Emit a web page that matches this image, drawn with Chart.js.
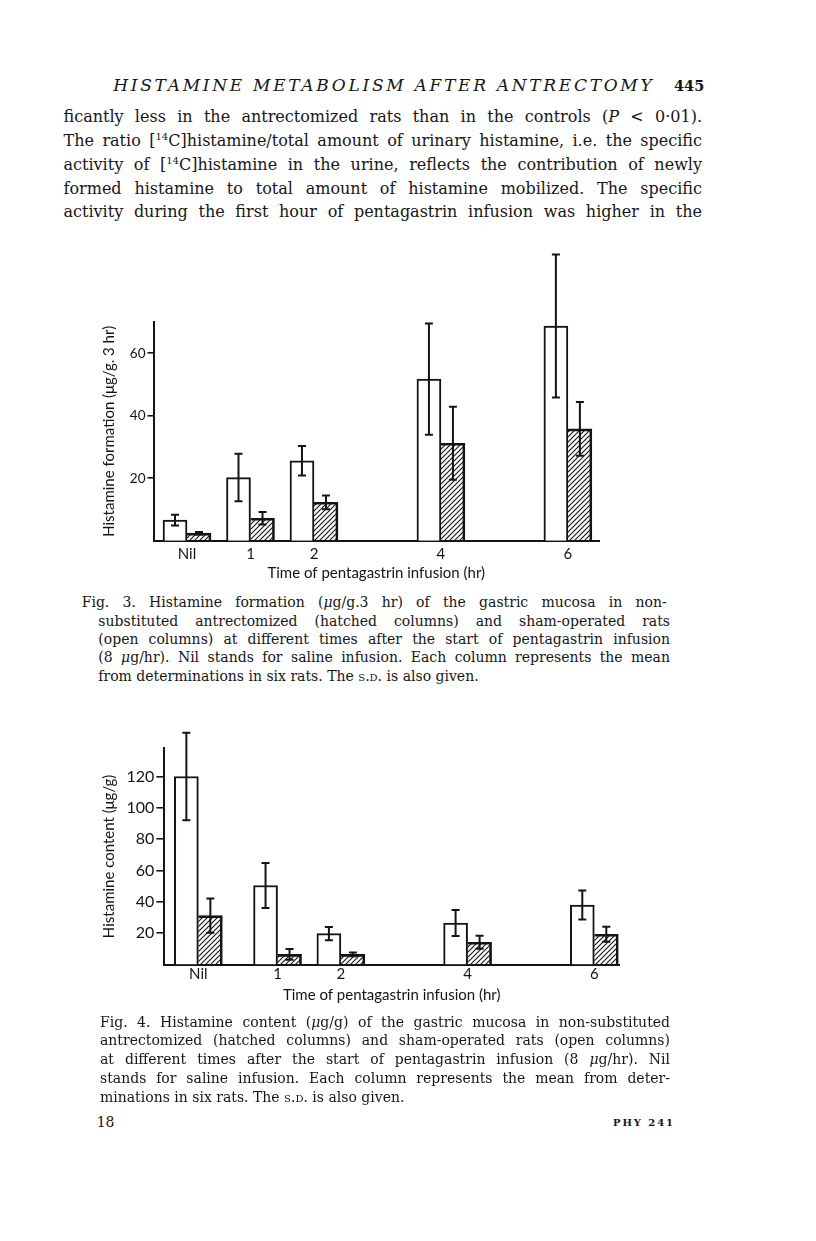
<!DOCTYPE html>
<html>
<head>
<meta charset="utf-8">
<script src="https://cdn.jsdelivr.net/npm/chart.js@4.4.1/dist/chart.umd.min.js"></script>
<style>
  html, body { margin: 0; padding: 0; background: #fff; }
  body { width: 816px; height: 1241px; position: relative; overflow: hidden;
         font-family: 'DejaVu Serif', serif; color: #161616; }
  .ln { position: absolute; white-space: nowrap; }
  .txt { font-size: 16px; line-height: 18.6px; }
  .cap { font-size: 14px; line-height: 16.3px; }
  .sup { font-size: 10px; position: relative; top: -6px; }
  .sc { font-variant: small-caps; }
  canvas { position: absolute; }
</style>
</head>
<body>

<div class="ln hdr" style="left:113.3px; top:75.9px; font-size:17px; line-height:19.8px; font-style:italic;" data-w="538.4">HISTAMINE METABOLISM AFTER ANTRECTOMY</div>
<div class="ln" style="left:674px; top:78px; font-size:14.5px; line-height:16.9px; font-weight:bold;">445</div>

<div class="ln txt" style="left:63.5px; top:108.45px;" data-w="638.5">ficantly less in the antrectomized rats than in the controls (<i>P</i> &lt; 0·01).</div>
<div class="ln txt" style="left:63.5px; top:132.15px;" data-w="638.5">The ratio [<span class="sup">14</span>C]histamine/total amount of urinary histamine, i.e. the specific</div>
<div class="ln txt" style="left:63.5px; top:155.85px;" data-w="638.5">activity of [<span class="sup">14</span>C]histamine in the urine, reflects the contribution of newly</div>
<div class="ln txt" style="left:63.5px; top:179.55px;" data-w="638.5">formed histamine to total amount of histamine mobilized. The specific</div>
<div class="ln txt" style="left:63.5px; top:203.25px;" data-w="638.5">activity during the first hour of pentagastrin infusion was higher in the</div>

<canvas id="fig3" width="540" height="350" style="left:80px; top:240px; width:540px; height:350px;"></canvas>

<div class="ln cap" style="left:81.7px; top:594.3px;" data-w="585">Fig. 3. Histamine formation (<i>μ</i>g/g.3 hr) of the gastric mucosa in non-</div>
<div class="ln cap" style="left:98.3px; top:612.65px;" data-w="571.7">substituted antrectomized (hatched columns) and sham-operated rats</div>
<div class="ln cap" style="left:98.3px; top:631px;" data-w="571.7">(open columns) at different times after the start of pentagastrin infusion</div>
<div class="ln cap" style="left:98.3px; top:649.35px;" data-w="571.7">(8 <i>μ</i>g/hr). Nil stands for saline infusion. Each column represents the mean</div>
<div class="ln cap" style="left:98.3px; top:667.7px;">from determinations in six rats. The <span class="sc">s.d.</span> is also given.</div>

<canvas id="fig4" width="560" height="300" style="left:80px; top:715px; width:560px; height:300px;"></canvas>

<div class="ln cap" style="left:100px; top:1013.7px;" data-w="570">Fig. 4. Histamine content (<i>μ</i>g/g) of the gastric mucosa in non-substituted</div>
<div class="ln cap" style="left:100px; top:1032.45px;" data-w="570">antrectomized (hatched columns) and sham-operated rats (open columns)</div>
<div class="ln cap" style="left:100px; top:1051.2px;" data-w="570">at different times after the start of pentagastrin infusion (8 <i>μ</i>g/hr). Nil</div>
<div class="ln cap" style="left:100px; top:1069.95px;" data-w="570">stands for saline infusion. Each column represents the mean from deter-</div>
<div class="ln cap" style="left:100px; top:1088.7px;">minations in six rats. The <span class="sc">s.d.</span> is also given.</div>

<div class="ln" style="left:96.7px; top:1113.7px; font-size:14px; line-height:16.3px;">18</div>
<div class="ln hdr" style="left:613px; top:1117.4px; font-size:10px; line-height:11.6px; font-weight:bold;" data-w="60">PHY 241</div>

<script>
// time axis shared by both figures
const timeLabels = ['Nil', '1', '2', '4', '6'];
const timeHours  = [0, 1, 2, 4, 6];

// Fig. 3: histamine formation (µg/g.3 hr)
const fig3Sham      = [6.6, 20.2, 25.6, 51.7, 68.7];
const fig3ShamSD    = [1.7, 7.6, 4.7, 17.8, 22.9];
const fig3Antrect   = [2.4, 7.2, 12.3, 31.2, 35.8];
const fig3AntrectSD = [0.4, 2.0, 2.2, 11.7, 8.6];
const fig3YTicks    = [20, 40, 60];

// Fig. 4: histamine content (µg/g)
const fig4Sham      = [120, 50.4, 19.7, 26.5, 38];
const fig4ShamSD    = [28, 14.4, 4.3, 8.3, 9.3];
const fig4Antrect   = [31.2, 6.5, 6.5, 14.2, 19.3];
const fig4AntrectSD = [10.9, 3.4, 1.2, 4.2, 4.8];
const fig4YTicks    = [20, 40, 60, 80, 100, 120];

const INK = '#141414';

// justify text lines by word spacing, letter-space the running heads
document.querySelectorAll('.ln[data-w]').forEach(el => {
  const target = +el.dataset.w;
  const w = el.getBoundingClientRect().width;
  if (el.classList.contains('hdr')) {
    const n = el.textContent.length;
    el.style.letterSpacing = ((target - w) / (n - 1)) + 'px';
  } else {
    const spaces = (el.textContent.match(/ /g) || []).length;
    if (spaces) el.style.wordSpacing = ((target - w) / spaces) + 'px';
  }
});

Chart.defaults.font.family = "Lato, 'DejaVu Sans', sans-serif";
Chart.defaults.color = INK;

function hatchPattern() {
  const c = document.createElement('canvas');
  c.width = c.height = 5;
  const g = c.getContext('2d');
  g.strokeStyle = INK;
  g.lineWidth = 1.1;
  g.beginPath();
  g.moveTo(0, 5); g.lineTo(5, 0);
  g.moveTo(-1, 1); g.lineTo(1, -1);
  g.moveTo(4, 6); g.lineTo(6, 4);
  g.stroke();
  return g.createPattern(c, 'repeat');
}

const errorBars = {
  id: 'errorBars',
  afterDatasetsDraw(chart) {
    const { ctx, scales: { y } } = chart;
    ctx.save();
    ctx.strokeStyle = INK;
    ctx.lineWidth = 2;
    chart.data.datasets.forEach((ds, i) => {
      chart.getDatasetMeta(i).data.forEach((bar, j) => {
        const v = ds.data[j].y, sd = ds.sd[j];
        const top = y.getPixelForValue(v + sd);
        const bot = y.getPixelForValue(Math.max(v - sd, 0));
        ctx.beginPath();
        ctx.moveTo(bar.x, top); ctx.lineTo(bar.x, bot);
        ctx.moveTo(bar.x - 4, top); ctx.lineTo(bar.x + 4, top);
        ctx.moveTo(bar.x - 4, bot); ctx.lineTo(bar.x + 4, bot);
        ctx.stroke();
      });
    });
    ctx.restore();
  },
};

function makeFigure(id, c) {
  const xs = timeHours.map((h, i) => (i === 0 ? h + c.nilShift : h));
  const ctx = document.getElementById(id).getContext('2d');
  return new Chart(ctx, {
    type: 'bar',
    data: {
      datasets: [
        {
          label: 'Sham-operated',
          data: xs.map((x, i) => ({ x, y: c.sham[i] })),
          sd: c.shamSD,
          backgroundColor: '#fff',
          borderColor: INK,
          borderWidth: { top: 2, left: 2, right: 2, bottom: 0 },
          barThickness: 24,
        },
        {
          label: 'Antrectomized',
          data: xs.map((x, i) => ({ x, y: c.antrect[i] })),
          sd: c.antrectSD,
          backgroundColor: hatchPattern(),
          borderColor: INK,
          borderWidth: { top: 2, left: 0, right: 2, bottom: 0 },
          barThickness: 24,
        },
      ],
    },
    options: {
      responsive: false,
      animation: false,
      layout: { padding: { top: c.padTop, right: c.padRight, left: 0, bottom: 0 } },
      plugins: { legend: { display: false }, tooltip: { enabled: false } },
      scales: {
        x: {
          type: 'linear',
          min: c.xMin, max: c.xMax,
          offset: false,
          grid: { display: false, drawTicks: false, offset: false },
          border: { color: INK, width: 2 },
          afterBuildTicks: s => { s.ticks = xs.map(v => ({ value: v })); },
          afterFit: s => { s.height = c.xAxisH; },
          ticks: {
            autoSkip: false, maxRotation: 0, padding: c.xTickPad,
            font: { size: 15 },
            callback: (v, i) => timeLabels[i],
          },
          title: {
            display: true, text: 'Time of pentagastrin infusion (hr)',
            font: { size: 15 }, padding: { top: 0, bottom: c.xTitlePad },
          },
        },
        y: {
          min: 0, max: c.yMax,
          grid: { drawOnChartArea: false, drawTicks: true, tickLength: c.yTickLen, color: INK, lineWidth: 1.6 },
          border: { color: INK, width: 2 },
          afterBuildTicks: s => { s.ticks = c.yTicks.map(v => ({ value: v })); },
          afterFit: s => { s.width = c.yAxisW; },
          ticks: { padding: 2, font: { size: c.yTickFont } },
          title: {
            display: true, text: c.yTitle,
            font: { size: 15 }, padding: { top: 19.7, bottom: 0 },
          },
        },
      },
    },
    plugins: [errorBars],
  });
}

makeFigure('fig3', {
  sham: fig3Sham, shamSD: fig3ShamSD, antrect: fig3Antrect, antrectSD: fig3AntrectSD,
  yTicks: fig3YTicks, yMax: 70, yTitle: 'Histamine formation (μg/g. 3 hr)',
  xMin: -0.528, xMax: 6.49, nilShift: 0,
  yAxisW: 73.5, xAxisH: 49.3, padTop: 82, padRight: 21,
  yTickFont: 13.5, yTickLen: 6, xTickPad: 4.8, xTitlePad: 7.5,
});

makeFigure('fig4', {
  sham: fig4Sham, shamSD: fig4ShamSD, antrect: fig4Antrect, antrectSD: fig4AntrectSD,
  yTicks: fig4YTicks, yMax: 138, yTitle: 'Histamine content (μg/g)',
  xMin: -0.786, xMax: 6.39, nilShift: -0.25,
  yAxisW: 84.4, xAxisH: 50.5, padTop: 33.3, padRight: 21,
  yTickFont: 16, yTickLen: 8, xTickPad: 0.5, xTitlePad: 11,
});
</script>
</body>
</html>
